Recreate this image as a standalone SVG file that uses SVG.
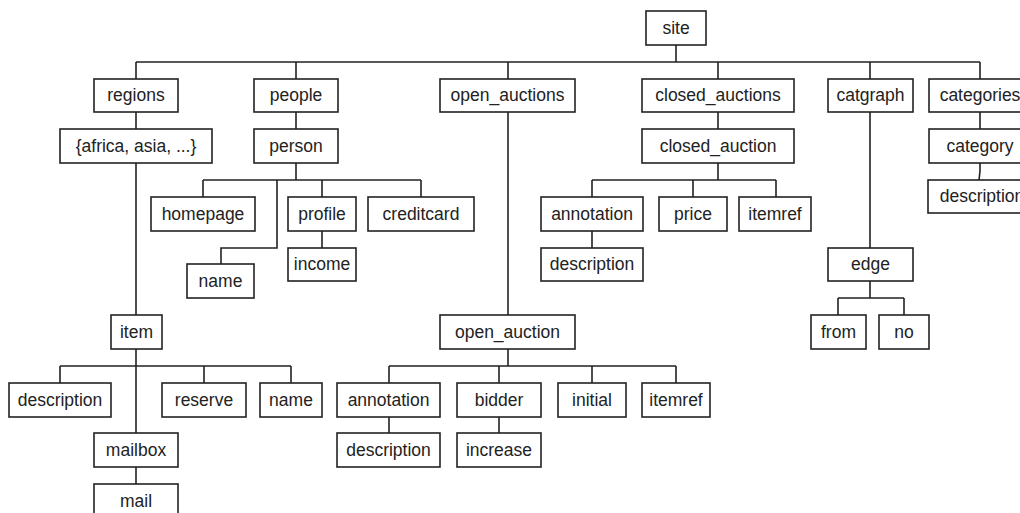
<svg xmlns="http://www.w3.org/2000/svg" width="1020" height="513" viewBox="0 0 1020 513">
  <style>
    .n rect { fill: #fff; stroke: #222; stroke-width: 1.6; }
    .n text { font-family: "Liberation Sans", Arial, sans-serif; font-size: 17.5px; fill: #222; text-anchor: middle; }
    #edges path { fill: none; stroke: #222; stroke-width: 1.6; }
  </style>
  <rect width="1020" height="513" fill="#fff"/>

  <!-- tree connectors -->
  <g id="edges">
    <path d="M676 45V62M136 62H980M136 62V79M296 62V79M508 62V79M718 62V79M870 62V79M980 62V79"/>
    <path d="M136 112V129M136 163V315"/>
    <path d="M296 112V129M296 163V180M203 180H421M203 180V197M322 180V197M421 180V197M277 180V248H221V264M322 231V248"/>
    <path d="M508 112V315"/>
    <path d="M718 112V129M718 163V180M592 180H776M592 180V197M693 180V197M776 180V197M592 231V248"/>
    <path d="M870 112V248M870 281V298M838 298H904M838 298V315M904 298V315"/>
    <path d="M980 112V129M980 163V171L979 180"/>
    <path d="M136 349V433M60 366H291M60 366V383M204 366V383M291 366V383M136 467V484"/>
    <path d="M508 349V366M389 366H676M389 366V383M499 366V383M592 366V383M676 366V383M389 417V433M499 417V433"/>
  </g>

  <g id="site" class="n"><rect x="646" y="11" width="60" height="34"/><text x="676" y="34">site</text></g>

  <g id="regions" class="n"><rect x="94" y="79" width="84" height="33"/><text x="136" y="101">regions</text></g>
  <g id="people" class="n"><rect x="254" y="79" width="84" height="33"/><text x="296" y="101">people</text></g>
  <g id="open_auctions" class="n"><rect x="440" y="79" width="135" height="33"/><text x="507.5" y="101">open_auctions</text></g>
  <g id="closed_auctions" class="n"><rect x="642" y="79" width="152" height="33"/><text x="718" y="101">closed_auctions</text></g>
  <g id="catgraph" class="n"><rect x="828" y="79" width="85" height="33"/><text x="870.5" y="101">catgraph</text></g>
  <g id="categories" class="n"><rect x="929" y="79" width="102" height="33"/><text x="980" y="101">categories</text></g>

  <g id="continents" class="n"><rect x="60" y="129" width="152" height="34"/><text x="136" y="152">{africa, asia, ...}</text></g>
  <g id="person" class="n"><rect x="254" y="129" width="84" height="34"/><text x="296" y="152">person</text></g>
  <g id="closed_auction" class="n"><rect x="642" y="129" width="152" height="34"/><text x="718" y="152">closed_auction</text></g>
  <g id="category" class="n"><rect x="929" y="129" width="102" height="34"/><text x="980" y="152">category</text></g>

  <g id="homepage" class="n"><rect x="151" y="197" width="104" height="34"/><text x="203" y="220">homepage</text></g>
  <g id="profile" class="n"><rect x="288" y="197" width="68" height="34"/><text x="322" y="220">profile</text></g>
  <g id="creditcard" class="n"><rect x="368" y="197" width="106" height="34"/><text x="421" y="220">creditcard</text></g>
  <g id="ca_annotation" class="n"><rect x="541" y="197" width="102" height="34"/><text x="592" y="220">annotation</text></g>
  <g id="ca_price" class="n"><rect x="659" y="197" width="68" height="34"/><text x="693" y="220">price</text></g>
  <g id="ca_itemref" class="n"><rect x="739" y="197" width="72" height="34"/><text x="775" y="220">itemref</text></g>
  <g id="cat_description" class="n"><rect x="928" y="180" width="104" height="33"/><text x="982" y="202">description</text></g>

  <g id="income" class="n"><rect x="288" y="248" width="68" height="33"/><text x="322" y="270">income</text></g>
  <g id="ca_description" class="n"><rect x="541" y="248" width="102" height="33"/><text x="592" y="270">description</text></g>
  <g id="edge" class="n"><rect x="828" y="248" width="85" height="33"/><text x="870.5" y="270">edge</text></g>

  <g id="person_name" class="n"><rect x="187" y="264" width="67" height="34"/><text x="220.5" y="287">name</text></g>

  <g id="item" class="n"><rect x="111" y="315" width="51" height="34"/><text x="136.5" y="338">item</text></g>
  <g id="open_auction" class="n"><rect x="440" y="315" width="135" height="34"/><text x="507.5" y="338">open_auction</text></g>
  <g id="from" class="n"><rect x="811" y="315" width="55" height="34"/><text x="838.5" y="338">from</text></g>
  <g id="no" class="n"><rect x="879" y="315" width="50" height="34"/><text x="904" y="338">no</text></g>

  <g id="item_description" class="n"><rect x="9" y="383" width="102" height="34"/><text x="60" y="406">description</text></g>
  <g id="reserve" class="n"><rect x="162" y="383" width="84" height="34"/><text x="204" y="406">reserve</text></g>
  <g id="item_name" class="n"><rect x="260" y="383" width="62" height="34"/><text x="291" y="406">name</text></g>
  <g id="oa_annotation" class="n"><rect x="337" y="383" width="103" height="34"/><text x="388.5" y="406">annotation</text></g>
  <g id="bidder" class="n"><rect x="457" y="383" width="84" height="34"/><text x="499" y="406">bidder</text></g>
  <g id="initial" class="n"><rect x="558" y="383" width="68" height="34"/><text x="592" y="406">initial</text></g>
  <g id="oa_itemref" class="n"><rect x="642" y="383" width="68" height="34"/><text x="676" y="406">itemref</text></g>

  <g id="mailbox" class="n"><rect x="94" y="433" width="84" height="34"/><text x="136" y="456">mailbox</text></g>
  <g id="oa_description" class="n"><rect x="337" y="433" width="103" height="34"/><text x="388.5" y="456">description</text></g>
  <g id="increase" class="n"><rect x="457" y="433" width="84" height="34"/><text x="499" y="456">increase</text></g>

  <g id="mail" class="n"><rect x="94" y="484" width="84" height="34"/><text x="136" y="507">mail</text></g>
</svg>
